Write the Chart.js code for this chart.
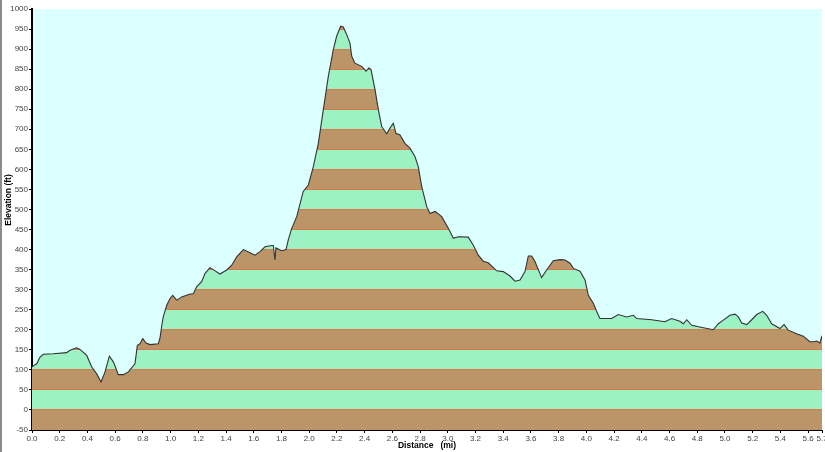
<!DOCTYPE html>
<html>
<head>
<meta charset="utf-8">
<script src="https://cdn.jsdelivr.net/npm/chart.js@4.4.0/dist/chart.umd.min.js"></script>
<style>
html,body{margin:0;padding:0;background:#ffffff;}
#wrap{width:825px;height:452px;position:relative;}
canvas{display:block;}
</style>
</head>
<body>
<div id="wrap"><canvas id="c" width="825" height="452"></canvas></div>
<script>
// ---- data ----
const distanceMi = [
  0.000,0.022,0.034,0.058,0.082,0.154,0.250,0.274,0.323,0.346,
  0.395,0.431,0.467,0.498,0.527,0.558,0.587,0.623,0.659,0.695,
  0.743,0.760,0.779,0.799,0.823,0.851,0.911,0.924,0.936,0.947,
  0.972,0.996,1.015,1.044,1.080,1.140,1.164,1.188,1.224,1.248,
  1.284,1.308,1.356,1.405,1.441,1.477,1.525,1.573,1.609,1.645,
  1.681,1.729,1.741,1.753,1.760,1.802,1.833,1.849,1.874,1.910,
  1.957,1.994,2.030,2.066,2.102,2.138,2.174,2.198,2.227,2.246,
  2.271,2.294,2.307,2.330,2.379,2.410,2.431,2.446,2.475,2.499,
  2.523,2.559,2.583,2.607,2.626,2.655,2.691,2.727,2.763,2.787,
  2.812,2.848,2.872,2.908,2.932,2.956,3.004,3.040,3.076,3.148,
  3.184,3.220,3.256,3.292,3.353,3.400,3.449,3.485,3.521,3.557,
  3.581,3.605,3.629,3.677,3.713,3.761,3.810,3.846,3.882,3.906,
  3.954,3.990,4.014,4.050,4.075,4.098,4.182,4.230,4.291,4.339,
  4.363,4.471,4.567,4.615,4.675,4.699,4.724,4.760,4.844,4.916,
  4.952,4.988,5.036,5.072,5.096,5.121,5.157,5.193,5.229,5.272,
  5.301,5.337,5.397,5.426,5.457,5.517,5.565,5.613,5.638,5.662,
  5.685,5.697,5.710
];
const elevationFt = [
  107,113,115,132,139,140,143,149,155,151,
  136,107,90,70,95,134,120,88,88,95,
  115,161,165,178,167,163,165,180,210,232,
  261,278,286,274,282,289,290,307,320,340,
  355,350,339,349,361,382,400,392,386,395,
  407,410,410,374,404,397,400,424,453,482,
  545,561,607,665,749,832,899,932,957,955,
  936,915,882,865,857,845,853,849,799,749,
  707,689,703,715,690,686,665,653,632,607,
  557,507,490,495,489,482,453,428,432,431,
  411,386,371,367,347,345,334,321,324,345,
  384,384,370,330,349,372,375,374,366,353,
  346,324,286,266,245,228,228,238,232,236,
  228,225,220,228,221,215,225,211,205,200,
  215,224,236,239,232,217,213,225,238,246,
  236,215,203,213,199,190,184,170,170,172,
  167,182,170
];
const xTickValues = [0.0,0.2,0.4,0.6,0.8,1.0,1.2,1.4,1.6,1.8,2.0,2.2,2.4,2.6,2.8,3.0,3.2,3.4,3.6,3.8,4.0,4.2,4.4,4.6,4.8,5.0,5.2,5.4,5.6,5.7];
const yMin = -50, yMax = 1000, yStep = 50;
const xMin = 0, xMax = 5.7;
const xTitle = 'Distance   (mi)';
const yTitle = 'Elevation (ft)';

// ---- styles ----
const GREEN = '#9cf2c2';
const BROWN = '#bb9468';
const EDGE = '#d97a4c';
const PLOT_BG = '#dcffff';
const LABEL_FONT = "'Liberation Sans',Arial,sans-serif";

const points = distanceMi.map((d, i) => ({x: d, y: elevationFt[i]}));

function stripeFill(context) {
  const chart = context.chart;
  const area = chart.chartArea;
  if (!area) return null;
  const ys = chart.scales.y;
  const top = area.top, bottom = area.bottom, h = bottom - top;
  const g = chart.ctx.createLinearGradient(0, top, 0, bottom);
  const f = p => Math.min(1, Math.max(0, (p - top) / h));
  for (let v = yMax - yStep; v >= yMin; v -= yStep) {
    const k = Math.round(v / yStep);
    const col = (Math.abs(k) % 2 === 1) ? BROWN : GREEN;
    const pt = ys.getPixelForValue(v + yStep);
    const pb = ys.getPixelForValue(v);
    g.addColorStop(f(pt - 0.5), EDGE);
    g.addColorStop(f(pt + 0.5), EDGE);
    g.addColorStop(f(pt + 0.5), col);
    g.addColorStop(f(pb - 0.5), col);
  }
  return g;
}

const bgPlugin = {
  id: 'bg',
  beforeDraw(chart) {
    const {ctx, chartArea} = chart;
    ctx.save();
    ctx.fillStyle = '#ffffff';
    ctx.fillRect(0, 0, chart.width, chart.height);
    ctx.fillStyle = PLOT_BG;
    ctx.fillRect(chartArea.left, chartArea.top, chartArea.right - chartArea.left, chartArea.bottom - chartArea.top);
    ctx.fillStyle = '#8c8c8c';
    ctx.fillRect(0, 0, 2, chart.height);
    ctx.restore();
  },
  afterDraw(chart) {
    const {ctx} = chart;
    ctx.save();
    ctx.translate(9, 200);
    ctx.rotate(-Math.PI / 2);
    ctx.font = "bold 8.5px " + LABEL_FONT;
    ctx.fillStyle = '#000000';
    ctx.textAlign = 'center';
    ctx.textBaseline = 'middle';
    ctx.fillText(yTitle, 0, 0);
    ctx.restore();
  }
};

new Chart(document.getElementById('c'), {
  type: 'line',
  data: {
    datasets: [{
      data: points,
      borderColor: '#333333',
      borderWidth: 1.1,
      pointRadius: 0,
      tension: 0,
      fill: 'start',
      backgroundColor: stripeFill
    }]
  },
  options: {
    responsive: false,
    animation: false,
    devicePixelRatio: 1,
    layout: {padding: {top: 9, right: 3, left: 0, bottom: 0}},
    plugins: {legend: {display: false}, tooltip: {enabled: false}},
    scales: {
      x: {
        type: 'linear',
        min: xMin, max: xMax,
        afterBuildTicks(scale) { scale.ticks = xTickValues.map(v => ({value: v})); },
        afterFit(scale) { scale.height = 22; scale.paddingLeft = 0; scale.paddingRight = 0; },
        border: {color: '#000000', width: 1},
        grid: {display: true, drawOnChartArea: false, drawTicks: true, tickLength: 3, color: '#000000'},
        ticks: {
          autoSkip: false, maxRotation: 0, minRotation: 0, padding: 1,
          color: '#444444', font: {family: LABEL_FONT, size: 8},
          callback: v => Number(v).toFixed(1)
        },
        title: {display: true, text: xTitle, color: '#000000', padding: {top: 0, bottom: 1},
                font: {family: LABEL_FONT, size: 8.5, weight: 'bold'}}
      },
      y: {
        type: 'linear',
        min: yMin, max: yMax,
        afterFit(scale) { scale.width = 32; scale.paddingTop = 0; scale.paddingBottom = 0; },
        border: {color: '#000000', width: 2},
        grid: {display: true, drawOnChartArea: false, drawTicks: true, tickLength: 3, color: '#000000'},
        ticks: {
          stepSize: yStep, padding: 1,
          color: '#444444', font: {family: LABEL_FONT, size: 8},
          callback: v => String(v)
        },
        title: {display: false}
      }
    }
  },
  plugins: [bgPlugin]
});
</script>
</body>
</html>
